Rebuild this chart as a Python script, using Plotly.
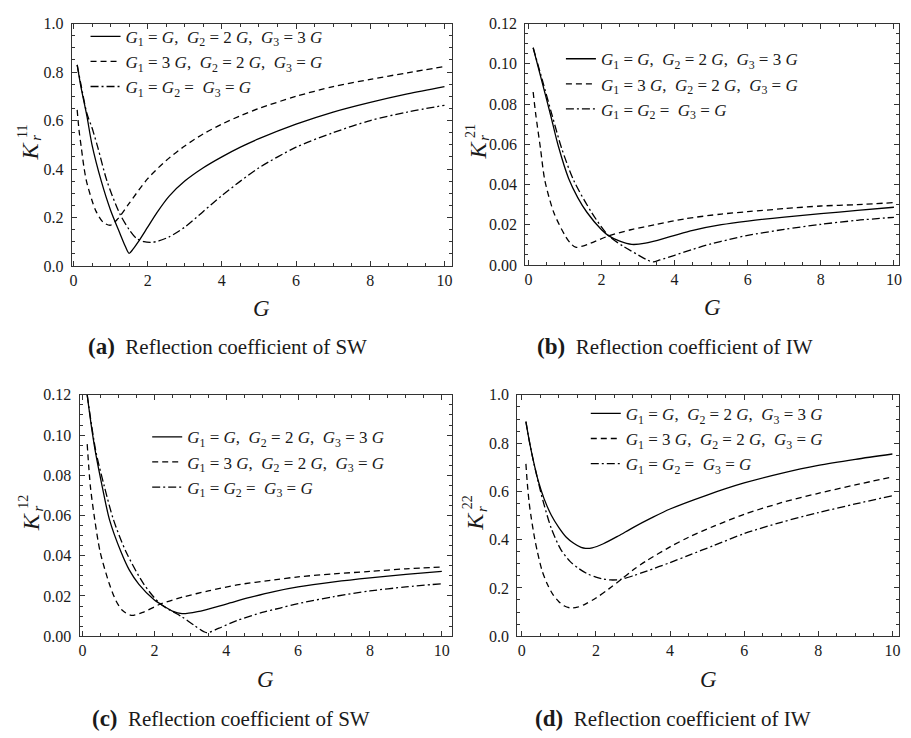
import plotly.graph_objects as go

# ---------------- data ----------------
# panel (a) K_r^11
a_solid_x = [0.1, 0.2, 0.36, 0.5, 0.75, 1.0, 1.25, 1.4, 1.5, 1.6, 1.75, 2.0, 2.25, 2.58, 3.0, 3.5, 4.0, 4.5, 5.0, 6.0, 7.0, 8.0, 9.0, 10.0]
a_solid_y = [0.83, 0.74, 0.62, 0.5, 0.35, 0.23, 0.135, 0.08, 0.052, 0.068, 0.1, 0.16, 0.22, 0.288, 0.35, 0.405, 0.45, 0.49, 0.525, 0.585, 0.635, 0.675, 0.71, 0.74]
a_dash_x = [0.1, 0.15, 0.21, 0.28, 0.35, 0.5, 0.61, 0.8, 1.0, 1.2, 1.5, 2.0, 2.5, 3.0, 3.5, 4.0, 4.5, 5.0, 6.0, 7.0, 8.0, 9.0, 10.0]
a_dash_y = [0.644, 0.56, 0.49, 0.41, 0.35, 0.27, 0.225, 0.18, 0.168, 0.195, 0.258, 0.36, 0.435, 0.495, 0.545, 0.585, 0.62, 0.65, 0.70, 0.74, 0.77, 0.797, 0.823]
a_dd_x = [0.1, 0.2, 0.36, 0.5, 0.66, 0.9, 1.24, 1.5, 1.69, 1.9, 2.09, 2.3, 2.58, 3.0, 3.5, 4.0, 4.5, 5.0, 6.0, 7.0, 8.0, 9.0, 10.0]
a_dd_y = [0.83, 0.75, 0.63, 0.57, 0.487, 0.352, 0.218, 0.15, 0.115, 0.1, 0.097, 0.103, 0.12, 0.16, 0.225, 0.29, 0.35, 0.405, 0.49, 0.55, 0.6, 0.635, 0.663]

# panel (b) K_r^21
b_solid_x = [0.13, 0.38, 0.61, 0.82, 1.1, 1.35, 1.6, 2.0, 2.19, 2.5, 2.83, 3.2, 3.9, 4.5, 5.28, 6.0, 7.0, 8.0, 9.0, 10.0]
b_solid_y = [0.108, 0.0905, 0.0743, 0.059, 0.043, 0.0335, 0.0262, 0.0175, 0.0146, 0.0118, 0.0102, 0.0108, 0.0142, 0.0172, 0.020, 0.0218, 0.0238, 0.0255, 0.0271, 0.0287]
b_dash_x = [0.13, 0.2, 0.33, 0.45, 0.7, 1.01, 1.15, 1.29, 1.45, 1.7, 2.19, 2.8, 3.46, 4.3, 5.28, 6.0, 7.0, 8.0, 9.0, 10.0]
b_dash_y = [0.086, 0.075, 0.058, 0.042, 0.0258, 0.0144, 0.0108, 0.0088, 0.0092, 0.0108, 0.0144, 0.0175, 0.020, 0.023, 0.0253, 0.0265, 0.028, 0.0293, 0.030, 0.031]
b_dd_x = [0.13, 0.38, 0.65, 0.91, 1.24, 1.74, 2.19, 2.6, 3.01, 3.25, 3.42, 3.6, 4.0, 4.5, 5.0, 5.5, 6.0, 7.0, 8.0, 9.0, 10.0]
b_dd_y = [0.108, 0.092, 0.0743, 0.058, 0.042, 0.0258, 0.0146, 0.0092, 0.0049, 0.0025, 0.0015, 0.0025, 0.0048, 0.0078, 0.0105, 0.0127, 0.0147, 0.0177, 0.0202, 0.0222, 0.0237]

# panel (c) K_r^12
c_solid_x = [0.13, 0.25, 0.37, 0.55, 0.75, 1.07, 1.3, 1.57, 2.0, 2.17, 2.5, 2.77, 3.2, 4.0, 4.6, 5.33, 6.0, 7.0, 8.0, 9.0, 10.0]
c_solid_y = [0.12, 0.104, 0.0905, 0.0743, 0.058, 0.042, 0.033, 0.0258, 0.018, 0.016, 0.0125, 0.0112, 0.0122, 0.016, 0.019, 0.0222, 0.0245, 0.027, 0.029, 0.0307, 0.0322]
c_dash_x = [0.13, 0.22, 0.34, 0.49, 0.75, 0.93, 1.1, 1.35, 1.7, 2.17, 2.8, 3.5, 4.3, 5.33, 6.0, 7.0, 8.0, 9.0, 10.0]
c_dash_y = [0.0955, 0.0743, 0.058, 0.042, 0.0258, 0.0177, 0.013, 0.0104, 0.012, 0.016, 0.0195, 0.0225, 0.0255, 0.028, 0.0295, 0.031, 0.0322, 0.0335, 0.0344]
c_dd_x = [0.13, 0.37, 0.61, 0.86, 1.21, 1.71, 2.17, 2.77, 3.1, 3.45, 3.8, 4.3, 5.0, 5.5, 6.0, 7.0, 8.0, 9.0, 10.0]
c_dd_y = [0.12, 0.092, 0.0743, 0.058, 0.042, 0.0258, 0.016, 0.0096, 0.0055, 0.0018, 0.004, 0.0078, 0.0118, 0.014, 0.0162, 0.0197, 0.0225, 0.0245, 0.0261]

# panel (d) K_r^22
d_solid_x = [0.11, 0.2, 0.3, 0.45, 0.6, 0.8, 1.0, 1.2, 1.4, 1.6, 1.72, 1.9, 2.2, 2.6, 3.0, 3.5, 4.0, 5.0, 6.0, 7.0, 8.0, 9.0, 10.0]
d_solid_y = [0.889, 0.81, 0.735, 0.64, 0.57, 0.5, 0.45, 0.41, 0.385, 0.368, 0.364, 0.366, 0.383, 0.415, 0.45, 0.49, 0.527, 0.585, 0.635, 0.675, 0.708, 0.733, 0.755]
d_dash_x = [0.11, 0.15, 0.2, 0.26, 0.34, 0.42, 0.55, 0.69, 0.85, 1.0, 1.15, 1.32, 1.5, 1.7, 2.0, 2.35, 2.66, 3.0, 3.37, 4.0, 4.5, 5.17, 6.0, 7.0, 8.0, 9.0, 10.0]
d_dash_y = [0.714, 0.63, 0.55, 0.485, 0.41, 0.35, 0.27, 0.215, 0.17, 0.143, 0.125, 0.117, 0.12, 0.132, 0.158, 0.196, 0.233, 0.274, 0.313, 0.37, 0.41, 0.455, 0.505, 0.553, 0.592, 0.627, 0.66]
d_dd_x = [0.11, 0.2, 0.3, 0.45, 0.6, 0.8, 1.05, 1.3, 1.54, 1.8, 2.0, 2.2, 2.4, 2.66, 3.0, 3.37, 4.0, 4.5, 5.17, 6.0, 7.0, 8.0, 9.0, 10.0]
d_dd_y = [0.889, 0.81, 0.735, 0.635, 0.545, 0.445, 0.36, 0.31, 0.28, 0.256, 0.245, 0.237, 0.233, 0.235, 0.25, 0.27, 0.305, 0.335, 0.375, 0.425, 0.472, 0.512, 0.548, 0.582]

series_names = [
    "<i>G</i><sub>1</sub> = <i>G</i>,\u00a0 <i>G</i><sub>2</sub> = 2 <i>G</i>,\u00a0 <i>G</i><sub>3</sub> = 3 <i>G</i>",
    "<i>G</i><sub>1</sub> = 3 <i>G</i>,\u00a0 <i>G</i><sub>2</sub> = 2 <i>G</i>,\u00a0 <i>G</i><sub>3</sub> = <i>G</i>",
    "<i>G</i><sub>1</sub> = <i>G</i><sub>2</sub> =\u00a0 <i>G</i><sub>3</sub> = <i>G</i>",
]
y_superscripts = ["11", "21", "12", "22"]
captions = [("(a)", "Reflection coefficient of SW"), ("(b)", "Reflection coefficient of IW"),
            ("(c)", "Reflection coefficient of SW"), ("(d)", "Reflection coefficient of IW")]

# ---------------- layout geometry (pixels) ----------------
W, H = 911, 738
FONT = "Liberation Serif"
INK = "#1a1a1a"


def px_x(v):
    return v / W


def px_y(v):
    return 1 - v / H


panels = [
    dict(data=[(a_solid_x, a_solid_y), (a_dash_x, a_dash_y), (a_dd_x, a_dd_y)],
         xdom=(70, 452), ydom=(16, 264), xr=[-0.05, 10.19], yr=[0, 1.0], dy=0.2, mdy=0.05, fmt=".1f",
         leg=(84, 11), kx=28, cap=(227, 346)),
    dict(data=[(b_solid_x, b_solid_y), (b_dash_x, b_dash_y), (b_dd_x, b_dd_y)],
         xdom=(526, 902), ydom=(16, 263), xr=[-0.09, 10.14], yr=[0, 0.12], dy=0.02, mdy=0.005, fmt=".2f",
         leg=(562, 34), kx=479, cap=(677, 346)),
    dict(data=[(c_solid_x, c_solid_y), (c_dash_x, c_dash_y), (c_dd_x, c_dd_y)],
         xdom=(78, 452), ydom=(396, 643), xr=[-0.082, 10.27], yr=[0, 0.12], dy=0.02, mdy=0.005, fmt=".2f",
         leg=(146, 421), kx=30, cap=(230, 727)),
    dict(data=[(d_solid_x, d_solid_y), (d_dash_x, d_dash_y), (d_dd_x, d_dd_y)],
         xdom=(518, 902), ydom=(396, 643), xr=[-0.126, 10.18], yr=[0, 1.0], dy=0.2, mdy=0.05, fmt=".1f",
         leg=(587, 397), kx=476, cap=(675, 727)),
]

dashes = ["solid", "6px,4px", "8px,3px,2px,3px"]

fig = go.Figure()
layout = dict(width=W, height=H, autosize=False, margin=dict(l=0, r=0, t=0, b=0),
              paper_bgcolor="white", plot_bgcolor="white",
              font=dict(family=FONT, color=INK), annotations=[])


def ann(text, x, y, size, angle=0):
    return dict(text=text, x=px_x(x), y=px_y(y), xref="paper", yref="paper", textangle=angle,
                showarrow=False, xanchor="center", yanchor="middle",
                font=dict(family=FONT, size=size, color=INK))


for i, p in enumerate(panels):
    k = i + 1
    xa = "x" if k == 1 else f"x{k}"
    ya = "y" if k == 1 else f"y{k}"
    legname = "legend" if k == 1 else f"legend{k}"
    for j, (xs, ys) in enumerate(p["data"]):
        fig.add_trace(go.Scatter(
            x=xs, y=ys, mode="lines", name=series_names[j],
            line=dict(color="black", width=1.3, dash=dashes[j], shape="spline", smoothing=0.8),
            xaxis=xa, yaxis=ya, legend=legname, showlegend=True))
    common = dict(showline=True, mirror="allticks", linecolor="#333", linewidth=1,
                  ticks="inside", ticklen=5, tickwidth=1, tickcolor="#333",
                  showgrid=False, zeroline=False,
                  tickfont=dict(family=FONT, size=16, color=INK))
    layout["xaxis" if k == 1 else f"xaxis{k}"] = dict(
        common, domain=[px_x(p["xdom"][0]), px_x(p["xdom"][1])], range=p["xr"],
        anchor=ya, tick0=0, dtick=2,
        minor=dict(ticks="inside", ticklen=3, tickcolor="#333", tick0=0, dtick=0.5, showgrid=False))
    layout["yaxis" if k == 1 else f"yaxis{k}"] = dict(
        common, domain=[px_y(p["ydom"][1]), px_y(p["ydom"][0])], range=p["yr"],
        anchor=xa, tick0=0, dtick=p["dy"], tickformat=p["fmt"], ticklabelstandoff=4,
        minor=dict(ticks="inside", ticklen=3, tickcolor="#333", tick0=0, dtick=p["mdy"], showgrid=False))
    layout[legname] = dict(x=px_x(p["leg"][0]), y=px_y(p["leg"][1]), xanchor="left", yanchor="top",
                           xref="paper", yref="paper", bgcolor="rgba(0,0,0,0)", borderwidth=0,
                           font=dict(family=FONT, size=17, color=INK), tracegroupgap=0)
    # x axis title
    xc = (p["xdom"][0] + p["xdom"][1]) / 2
    layout["annotations"].append(ann("<i>G</i>", xc, p["ydom"][1] + 44, 23))
    # y axis title: K with stacked subscript r and superscript
    yc = (p["ydom"][0] + p["ydom"][1]) / 2
    kx = p["kx"]
    layout["annotations"].append(ann("<i>K</i>", kx, yc + 6, 24, -90))
    layout["annotations"].append(ann(y_superscripts[i], kx - 8, yc - 14, 14, -90))
    layout["annotations"].append(ann("<i>r</i>", kx + 6, yc - 7, 15, -90))
    # caption
    layout["annotations"].append(ann(
        "<b><span style='font-size:23px'>" + captions[i][0] + "</span></b>\u00a0 " + captions[i][1],
        p["cap"][0], p["cap"][1], 21))

fig.update_layout(**layout)
fig.write_html("out.html")
